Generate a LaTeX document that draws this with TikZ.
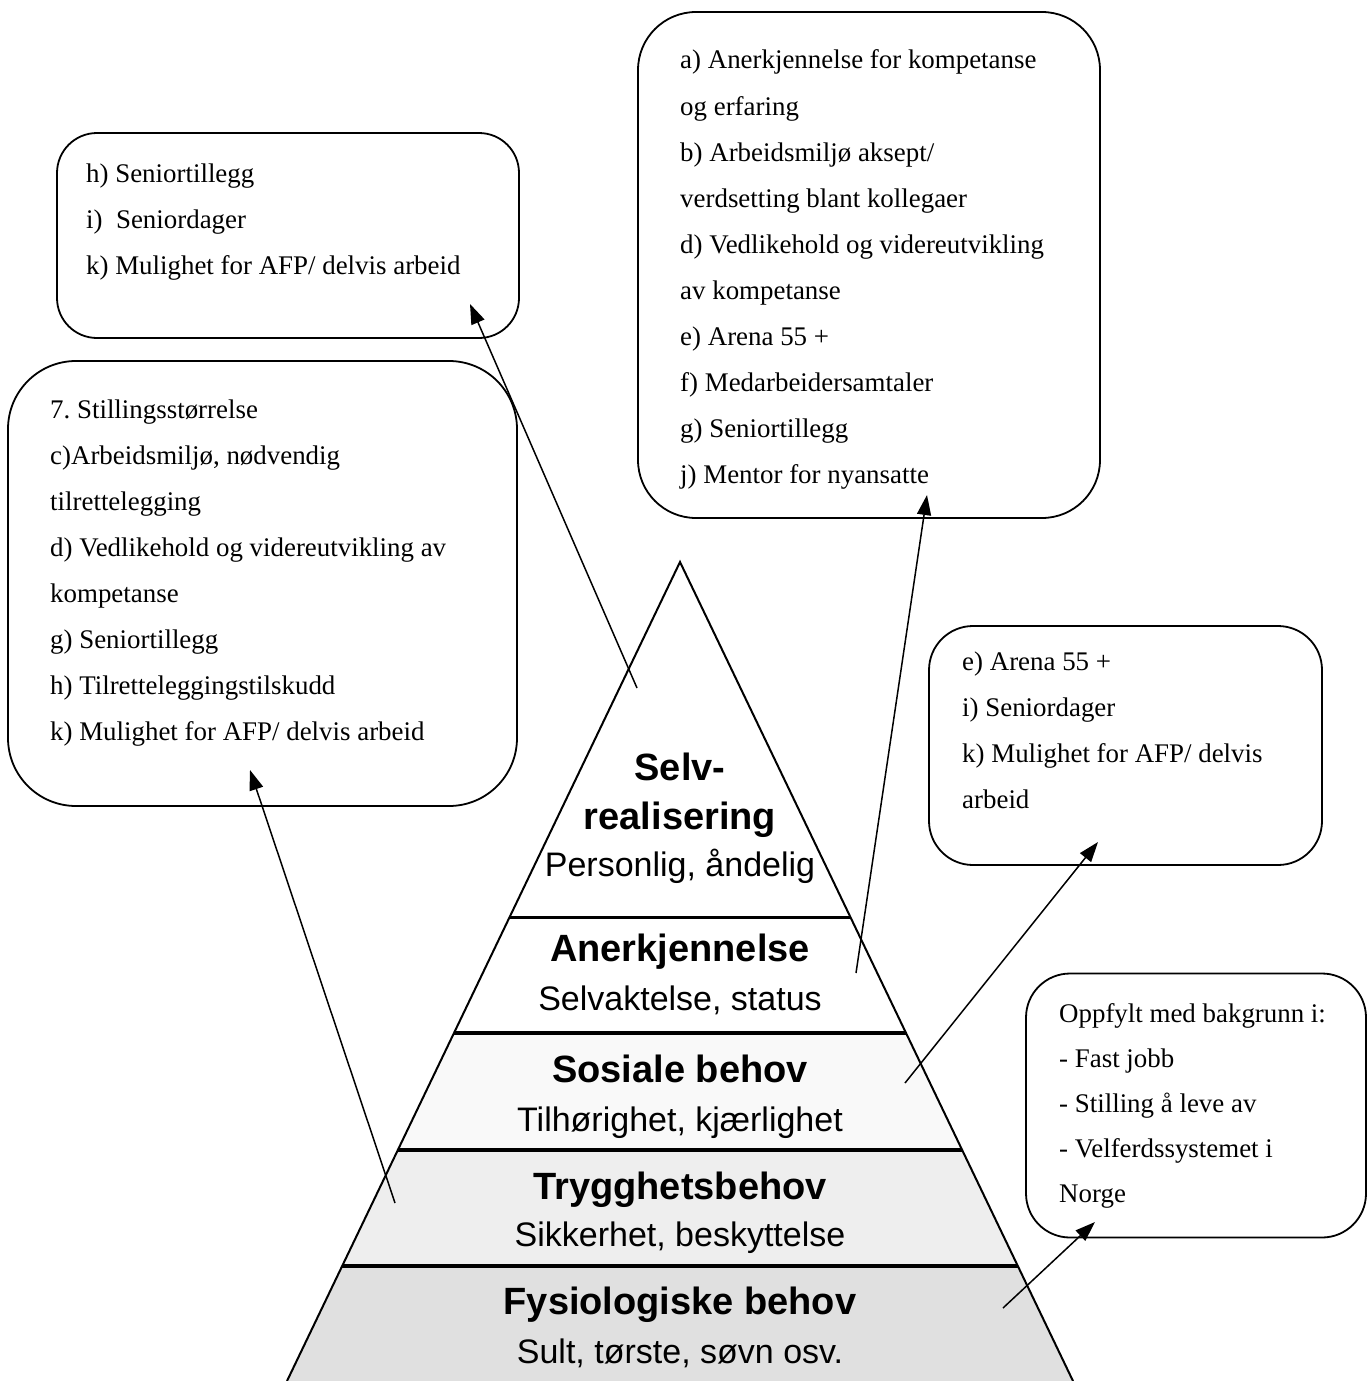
\documentclass[tikz,border=0pt]{standalone}
\usepackage{fontspec}
\setmainfont{Liberation Serif}
\newfontfamily\pyrsans{Liberation Sans}
\usetikzlibrary{arrows.meta,calc}
\begin{document}
\frenchspacing
\begin{tikzpicture}[x=1pt,y=-1pt,
  box/.style={draw, line width=1.8pt, rectangle, inner sep=0pt},
  txt/.style={anchor=base west, inner sep=0pt, font=\fontsize{26.9}{30}\selectfont},
  ptitle/.style={anchor=base, inner sep=0pt, font=\pyrsans\bfseries\fontsize{38}{40}\selectfont},
  psub/.style={anchor=base, inner sep=0pt, font=\pyrsans\fontsize{34}{36}\selectfont},
  arr/.style={line width=1.5pt, -{Triangle[length=20pt,width=14pt]}},
  divider/.style={line width=3.8pt},
]
\useasboundingbox (0,0) rectangle (1371,1381);
\fill[white] (0,0) rectangle (1371,1381);

% ---------- pyramid ----------
\coordinate (apex) at (680,562);
\coordinate (BL) at (287,1381);
\coordinate (BR) at (1073,1381);
\path (apex) -- (BL) coordinate[pos=0.4335] (L1) coordinate[pos=0.5751] (L2)
                     coordinate[pos=0.7179] (L3) coordinate[pos=0.8596] (L4);
\path (apex) -- (BR) coordinate[pos=0.4335] (R1) coordinate[pos=0.5751] (R2)
                     coordinate[pos=0.7179] (R3) coordinate[pos=0.8596] (R4);
\fill[gray!5]  (L2) -- (R2) -- (R3) -- (L3) -- cycle;
\fill[gray!13] (L3) -- (R3) -- (R4) -- (L4) -- cycle;
\fill[gray!24] (L4) -- (R4) -- (BR) -- (BL) -- cycle;
\draw[line width=2pt, line join=miter] (BL) -- (apex) -- (BR);
\draw[line width=3pt] (L1) -- (R1);
\draw[divider] (L2) -- (R2);
\draw[divider] (L3) -- (R3);
\draw[divider] (L4) -- (R4);

\node[ptitle] (p1) at (680,780) {Selv-};
\node[ptitle] (p2) at (680,829) {realisering};
\node[psub]   (p3) at (680,876) {Personlig, åndelig};
\node[ptitle] (p4) at (680,961) {Anerkjennelse};
\node[psub]   (p5) at (680,1010) {Selvaktelse, status};
\node[ptitle] (p6) at (680,1082) {Sosiale behov};
\node[psub]   (p7) at (680,1131) {Tilhørighet, kjærlighet};
\node[ptitle] (p8) at (680,1199) {Trygghetsbehov};
\node[psub]   (p9) at (680,1246) {Sikkerhet, beskyttelse};
\node[ptitle] (p10) at (680,1314) {Fysiologiske behov};
\node[psub]   (p11) at (680,1363) {Sult, tørste, søvn osv.};

% ---------- boxes ----------
\node[box, rounded corners=40pt, minimum width=462pt, minimum height=205pt] (B1) at (288,235.5) {};
\node[box, rounded corners=58pt, minimum width=462pt, minimum height=506pt] (B2) at (869,265) {};
\node[box, rounded corners=68pt, minimum width=509pt, minimum height=445pt] (B3) at (262.5,583.5) {};
\node[box, rounded corners=44pt, minimum width=393pt, minimum height=239pt] (B4) at (1125.5,745.5) {};
\node[box, rounded corners=44pt, minimum width=340pt, minimum height=264pt] (B5) at (1196,1105.5) {};

\foreach [count=\i] \t in {h) Seniortillegg, {i)\ \ Seniordager}, {k) Mulighet for AFP/ delvis arbeid}}
  \node[txt] (b1-\i) at (86,{182+46*(\i-1)}) {\t};

\foreach [count=\i] \t in {a) Anerkjennelse for kompetanse, og erfaring, b) Arbeidsmiljø aksept/,
  verdsetting blant kollegaer, d) Vedlikehold og videreutvikling, av kompetanse,
  e) Arena 55 +, f) Medarbeidersamtaler, g) Seniortillegg, j) Mentor for nyansatte}
  \node[txt] (b2-\i) at (680,{69+46*(\i-1)}) {\t};

\foreach [count=\i] \t in {7. Stillingsstørrelse, {c)Arbeidsmiljø, nødvendig}, tilrettelegging,
  d) Vedlikehold og videreutvikling av, kompetanse, g) Seniortillegg,
  h) Tilretteleggingstilskudd, k) Mulighet for AFP/ delvis arbeid}
  \node[txt] (b3-\i) at (50,{418+46*(\i-1)}) {\t};

\foreach [count=\i] \t in {e) Arena 55 +, i) Seniordager, k) Mulighet for AFP/ delvis, arbeid}
  \node[txt] (b4-\i) at (962,{670+46*(\i-1)}) {\t};

\foreach [count=\i] \t in {Oppfylt med bakgrunn i:, - Fast jobb, - Stilling å leve av,
  - Velferdssystemet i, Norge}
  \node[txt] (b5-\i) at (1059,{1022+45*(\i-1)}) {\t};

% ---------- arrows ----------
\coordinate (s1) at (637,688);  \coordinate (e1) at (470,304);
\coordinate (s2) at (856,973);  \coordinate (e2) at (927,495);
\coordinate (s3) at (905,1083); \coordinate (e3) at (1098,842);
\coordinate (s4) at (395,1203); \coordinate (e4) at (250,770);
\coordinate (s5) at (1003,1308); \coordinate (e5) at (1095,1222);
\draw[arr] (s1) -- (e1);
\draw[arr] (s2) -- (e2);
\draw[arr] (s3) -- (e3);
\draw[arr] (s4) -- (e4);
\draw[arr] (s5) -- (e5);
\end{tikzpicture}
\end{document}
